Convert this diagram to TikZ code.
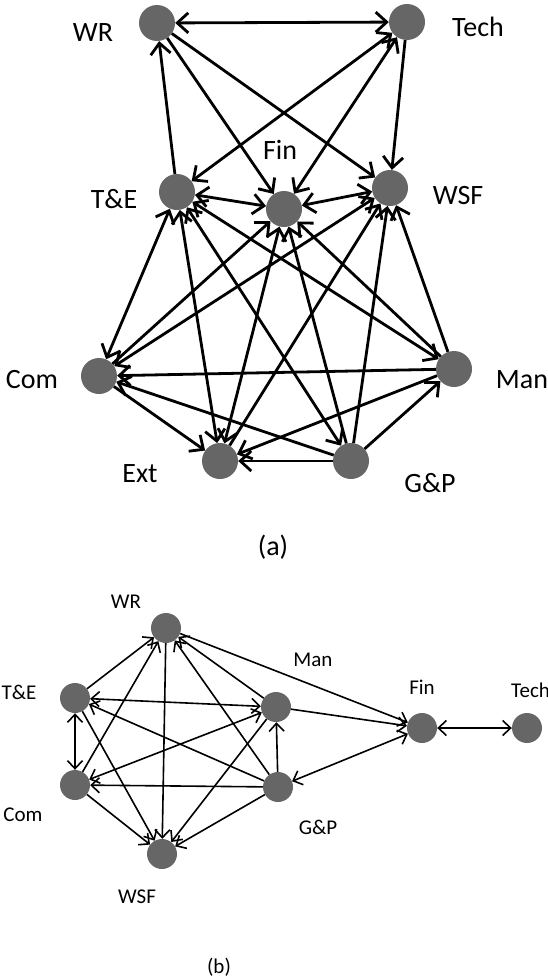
\documentclass[tikz,border=0pt]{standalone}
\usepackage{fontspec}
\setmainfont{Carlito}
\usetikzlibrary{arrows.meta}
\definecolor{dotgray}{RGB}{102,102,102}
\begin{document}
\begin{tikzpicture}[x=1pt,y=-1pt,
  dot/.style={circle,fill=dotgray,inner sep=0pt,minimum size=36pt},
  sdot/.style={circle,fill=dotgray,inner sep=0pt,minimum size=30pt},
  lab/.style={font=\fontsize{28}{30}\selectfont,inner sep=0pt},
  slab/.style={font=\fontsize{21}{24}\selectfont,inner sep=0pt},
  one/.style={line width=2.8pt,-{Straight Barb[length=11pt,width=20pt]}},
  two/.style={line width=2.8pt,{Straight Barb[length=11pt,width=20pt]}-{Straight Barb[length=11pt,width=20pt]}},
  sone/.style={line width=1.6pt,-{Straight Barb[length=8pt,width=15pt]}},
  stwo/.style={line width=1.6pt,{Straight Barb[length=8pt,width=15pt]}-{Straight Barb[length=8pt,width=15pt]}}]
\useasboundingbox (0,0) rectangle (547,980);

% ---------- network (a) ----------
\node[dot] (WR)   at (157,23)  {};
\node[dot] (Tech) at (407,22)  {};
\node[dot] (TE)   at (177,192) {};
\node[dot] (Fin)  at (284,209) {};
\node[dot] (WSF)  at (390,188) {};
\node[dot] (Com)  at (99,376)  {};
\node[dot] (Man)  at (454,369) {};
\node[dot] (Ext)  at (220,461) {};
\node[dot] (GP)   at (351,461) {};

\node[lab] (lWR)   at (93,33)   {WR};
\node[lab] (lTech) at (478,27)  {Tech};
\node[lab] (lFin)  at (280,150) {Fin};
\node[lab] (lTE)   at (114,199) {T\&E};
\node[lab] (lWSF)  at (458,196) {WSF};
\node[lab] (lCom)  at (32,380)  {Com};
\node[lab] (lMan)  at (522,380) {Man};
\node[lab] (lExt)  at (140,474) {Ext};
\node[lab] (lGP)   at (430,483) {G\&P};
\node[lab] (capA)  at (273,547) {(a)};

\draw[two] (WR) -- (Tech);
\draw[two] (TE) -- (Tech);
\draw[two] (Fin) -- (Tech);
\draw[two] (TE) -- (Fin);
\draw[two] (Fin) -- (WSF);
\draw[two] (Com) -- (TE);
\draw[two] (Com) -- (WSF);
\draw[two] (TE) -- (Ext);
\draw[two] (Fin) -- (Ext);
\draw[two] (TE) -- (GP);
\draw[two] (TE) -- (Man);
\draw[one] (TE) -- (WR);
\draw[one] (WR) -- (Fin);
\draw[one] (WR) -- (WSF);
\draw[one] (Tech) -- (WSF);
\draw[one] (Com) -- (Fin);
\draw[one] (Man) -- (Com);
\draw[one] (Com) -- (Ext);
\draw[one] (GP) -- (Com);
\draw[one] (Ext) -- (WSF);
\draw[one] (GP) -- (Fin);
\draw[one] (GP) -- (WSF);
\draw[one] (Man) -- (Fin);
\draw[one] (Man) -- (WSF);
\draw[one] (Man) -- (Ext);
\draw[one] (GP) -- (Ext);
\draw[one] (GP) -- (Man);

% ---------- network (b) ----------
\node[sdot] (bWR)   at (166,628) {};
\node[sdot] (bTE)   at (75,698)  {};
\node[sdot] (bMan)  at (276,707) {};
\node[sdot] (bFin)  at (422,728) {};
\node[sdot] (bTech) at (527,728) {};
\node[sdot] (bCom)  at (75,785)  {};
\node[sdot] (bGP)   at (278,787) {};
\node[sdot] (bWSF)  at (162,854) {};

\node[slab] (lbWR)   at (126,602) {WR};
\node[slab] (lbMan)  at (313,660) {Man};
\node[slab] (lbTE)   at (19,692)  {T\&E};
\node[slab] (lbFin)  at (422,687) {Fin};
\node[slab,anchor=west] (lbTech) at (511,690) {Tech};
\node[slab] (lbCom)  at (23,815)  {Com};
\node[slab] (lbGP)   at (318,827) {G\&P};
\node[slab] (lbWSF)  at (137,897) {WSF};
\node[slab] (capB)   at (219,967) {(b)};

\draw[sone] (bTE) -- (bWR);
\draw[sone] (bWR) -- (bFin);
\draw[sone] (bMan) -- (bWR);
\draw[sone] (bGP) -- (bWR);
\draw[sone] (bCom) -- (bWR);
\draw[sone] (bWR) -- (bWSF);
\draw[sone] (bTE) -- (bWSF);
\draw[sone] (bGP) -- (bTE);
\draw[sone] (bCom) -- (bWSF);
\draw[sone] (bMan) -- (bWSF);
\draw[sone] (bGP) -- (bWSF);
\draw[sone] (bGP) -- (bMan);
\draw[sone] (bGP) -- (bCom);
\draw[sone] (bMan) -- (bFin);
\draw[stwo] (bTE) -- (bMan);
\draw[stwo] (bTE) -- (bCom);
\draw[stwo] (bCom) -- (bMan);
\draw[stwo] (bFin) -- (bGP);
\draw[stwo] (bFin) -- (bTech);
\end{tikzpicture}
\end{document}
